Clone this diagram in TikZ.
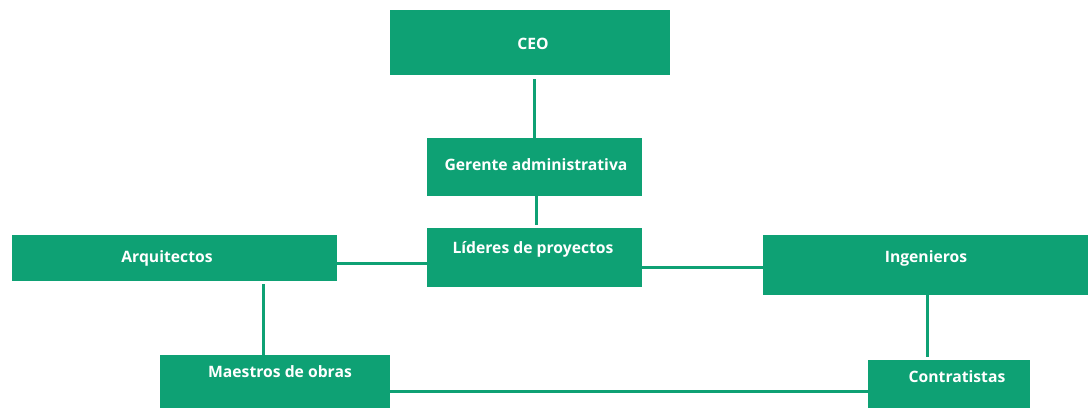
\documentclass[tikz,border=0pt]{standalone}
\usepackage{fontspec}
\setmainfont{Open Sans}
\definecolor{boxgreen}{RGB}{14,161,116}
\tikzset{
  box/.style={fill=boxgreen, draw=none, inner sep=0pt, anchor=north west},
  lbl/.style={text=white, font=\fontsize{15.7}{18}\selectfont\bfseries, inner sep=0pt},
  conn/.style={draw=boxgreen, line width=3pt}
}
\begin{document}
\begin{tikzpicture}[x=1pt,y=-1pt]
\fill[white] (0,0) rectangle (1091,407);
\useasboundingbox (0,0) rectangle (1091,407);
% boxes
\node[box, minimum width=280pt, minimum height=65pt] (ceo) at (390,10) {};
\node[box, minimum width=215pt, minimum height=58pt] (ger) at (427,138) {};
\node[box, minimum width=215pt, minimum height=59pt] (lid) at (427,228) {};
\node[box, minimum width=325pt, minimum height=46pt] (arq) at (12,235) {};
\node[box, minimum width=325pt, minimum height=60pt] (ing) at (763,235) {};
\node[box, minimum width=230pt, minimum height=55pt] (mae) at (160,355) {};
\node[box, minimum width=162pt, minimum height=50pt] (con) at (868,360) {};
% labels
\node[lbl] (ceot) at (533,44) {CEO};
\node[lbl] (gert) at (536,165) {Gerente administrativa};
\node[lbl] (lidt) at (533,249) {Líderes de proyectos};
\node[lbl] (arqt) at (167,258) {Arquitectos};
\node[lbl] (ingt) at (926,258) {Ingenieros};
\node[lbl] (maet) at (280,372) {Maestros de obras};
\node[lbl] (cont) at (957,377) {Contratistas};
% connectors
\draw[conn] ([xshift=-0.5pt,yshift=-4pt]ger.north |- ceo.south) -- ([xshift=-0.5pt]ger.north);
\draw[conn] ([xshift=1.5pt]ger.south) -- ([xshift=1.5pt,yshift=3pt]lid.north);
\draw[conn] ([yshift=-5pt]arq.east) -- ([yshift=-5pt]arq.east -| lid.west);
\draw[conn] ([yshift=-9.5pt]lid.east) -- ([yshift=-9.5pt]lid.east -| ing.west);
\draw[conn] ([xshift=-12pt]mae.north) -- ([xshift=-12pt,yshift=-3pt]mae.north |- arq.south);
\draw[conn] ([xshift=1.5pt]ing.south) -- ([xshift=1.5pt,yshift=3pt]ing.south |- con.north);
\draw[conn] ([yshift=-9pt]mae.east) -- ([yshift=-9pt]mae.east -| con.west);
\end{tikzpicture}
\end{document}
